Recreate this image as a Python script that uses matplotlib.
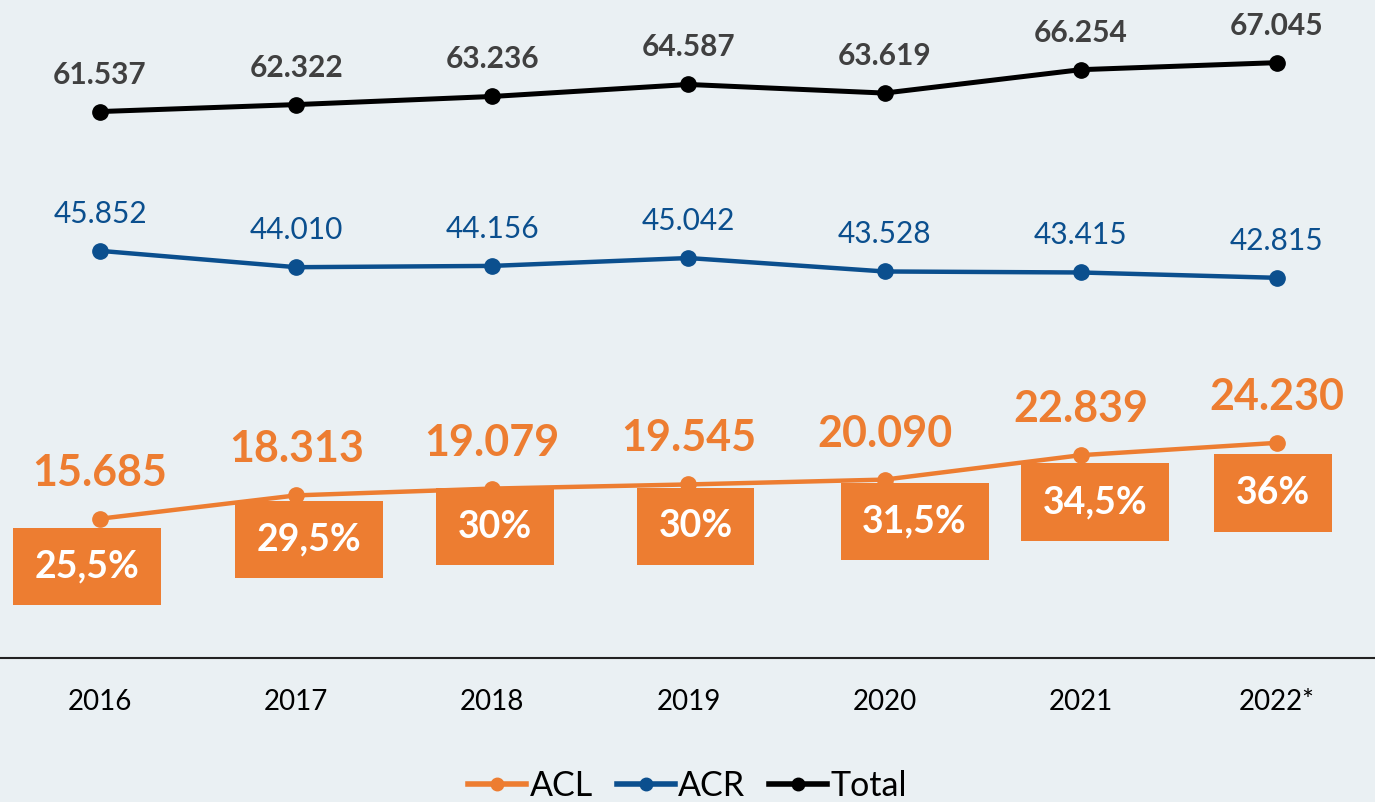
import matplotlib
matplotlib.use("Agg")
import matplotlib.pyplot as plt
from matplotlib.lines import Line2D

plt.rcParams['font.family'] = ['Lato', 'DejaVu Sans']

years = ["2016", "2017", "2018", "2019", "2020", "2021", "2022*"]
acl = [15.685, 18.313, 19.079, 19.545, 20.090, 22.839, 24.230]
acr = [45.852, 44.010, 44.156, 45.042, 43.528, 43.415, 42.815]
total = [61.537, 62.322, 63.236, 64.587, 63.619, 66.254, 67.045]
acl_share = ["25,5%", "29,5%", "30%", "30%", "31,5%", "34,5%", "36%"]

def fmt(v):
    return f"{v:.3f}"

BG = "#EAF0F3"
ORANGE = "#ED7D31"
BLUE = "#0B4F8E"
BLACK = "#000000"
GREY = "#404040"

fig = plt.figure(figsize=(13.75, 8.02), dpi=100, facecolor=BG)
ax = fig.add_axes([0, 1 - 658 / 802, 1, 658 / 802])
ax.set_facecolor(BG)

x = list(range(len(years)))
ax.plot(x, total, color=BLACK, lw=3.6, marker='o', ms=11, zorder=3)
ax.plot(x, acr, color=BLUE, lw=3.2, marker='o', ms=11, zorder=3)
ax.plot(x, acl, color=ORANGE, lw=3.2, marker='o', ms=11, zorder=3)

for xi, v in zip(x, total):
    ax.annotate(fmt(v), (xi, v), xytext=(0, 37), textcoords='offset pixels',
                ha='center', va='center', fontsize=21.5, fontweight='bold', color=GREY)
for xi, v in zip(x, acr):
    ax.annotate(fmt(v), (xi, v), xytext=(0, 37), textcoords='offset pixels',
                ha='center', va='center', fontsize=21.5, color=BLUE)
for xi, v in zip(x, acl):
    ax.annotate(fmt(v), (xi, v), xytext=(0, 46), textcoords='offset pixels',
                ha='center', va='center', fontsize=31, fontweight='bold', color=ORANGE)

box_dx = [-13, 13, 3, 7, 30, 14, -4]
box_dy = [-48, -44, -38, -42, -42, -47, -50]
for xi, v, s, dx, dy in zip(x, acl, acl_share, box_dx, box_dy):
    ax.annotate(s, (xi, v), xytext=(dx, dy), textcoords='offset pixels',
                ha='center', va='center', fontsize=27, fontweight='bold', color='white',
                bbox=dict(boxstyle='square,pad=0.58', fc=ORANGE, ec='none'), zorder=4)

ax.set_xlim(-0.51, 6.5)
ax.set_ylim(0, 74.1)
ax.set_xticks(x)
ax.set_xticklabels(years, fontsize=20)
ax.tick_params(axis='x', length=0, pad=22)
ax.set_yticks([])
for sp in ['top', 'left', 'right']:
    ax.spines[sp].set_visible(False)
ax.spines['bottom'].set_color('#222222')
ax.spines['bottom'].set_linewidth(1.5)

handles = [
    Line2D([0], [0], color=ORANGE, lw=4, marker='o', ms=9),
    Line2D([0], [0], color=BLUE, lw=4, marker='o', ms=9),
    Line2D([0], [0], color=BLACK, lw=4, marker='o', ms=9),
]
fig.legend(handles, ["ACL", "ACR", "Total"], loc='center', bbox_to_anchor=(0.5, 1 - 786 / 802),
           ncol=3, frameon=False, fontsize=24.5, handlelength=1.7, handletextpad=0.1,
           columnspacing=0.7)

fig.savefig("out.png", dpi=100, facecolor=BG)
